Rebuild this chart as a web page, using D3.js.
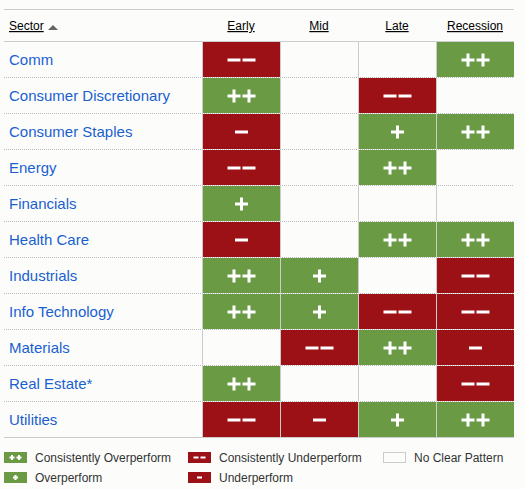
<!DOCTYPE html>
<html><head><meta charset="utf-8">
<script src="https://cdn.jsdelivr.net/npm/d3@7"></script>
<style>html,body{margin:0;padding:0;background:#fcfdfb;}svg{display:block;font-family:"Liberation Sans",Arial,sans-serif;}</style>
</head><body><div id="chart"></div>
<script>
const sectors = ["Comm","Consumer Discretionary","Consumer Staples","Energy","Financials","Health Care","Industrials","Info Technology","Materials","Real Estate*","Utilities"];
const phases = ["Early","Mid","Late","Recession"];
// 2 = consistently overperform, 1 = overperform, 0 = no clear pattern, -1 = underperform, -2 = consistently underperform
const early =     [-2, 2,-1,-2, 1,-1, 2, 2, 0, 2,-2];
const mid =       [ 0, 0, 0, 0, 0, 0, 1, 1,-2, 0,-1];
const late =      [ 0,-2, 1, 2, 0, 2, 0,-2, 2, 0, 1];
const recession = [ 2, 0, 2, 0, 0, 2,-2,-2,-1,-2, 2];
const legendItems = [
  {v:2, label:"Consistently Overperform"},
  {v:-2, label:"Consistently Underperform"},
  {v:0, label:"No Clear Pattern"},
  {v:1, label:"Overperform"},
  {v:-1, label:"Underperform"}
];
const series = [early, mid, late, recession];

const W = 525, H = 489;
const svg = d3.select("#chart").append("svg").attr("width", W).attr("height", H);
const green = "#6b9a45", red = "#9c1116", grid = "#cccccc", bg = "#fcfdfb";
const colorOf = v => v > 0 ? green : (v < 0 ? red : bg);

const x = d3.scaleBand().domain(phases).range([202, 514]);
const y = d3.scaleBand().domain(sectors).range([42, 438]);

// top & header lines
svg.append("line").attr("x1",4).attr("x2",514).attr("y1",9.5).attr("y2",9.5).attr("stroke",grid);
svg.append("line").attr("x1",4).attr("x2",514).attr("y1",41.5).attr("y2",41.5).attr("stroke",grid);
svg.append("line").attr("x1",4).attr("x2",514).attr("y1",437.5).attr("y2",437.5).attr("stroke",grid);

// header
const hdr = svg.append("g").attr("font-size",12).attr("fill","#000");
hdr.append("text").attr("x",9).attr("y",30).text("Sector").attr("text-decoration","underline");
svg.append("path").attr("d","M48,30 L53,25 L58,30 Z").attr("fill","#666");
hdr.selectAll("text.ph").data(phases).enter().append("text").attr("class","ph")
  .attr("x", d => x(d) + x.bandwidth()/2).attr("y",30).attr("text-anchor","middle")
  .attr("text-decoration","underline").text(d => d);

// row dotted separators
svg.selectAll("line.rowsep").data(sectors.slice(1)).enter().append("line").attr("class","rowsep")
  .attr("x1",4).attr("x2",514).attr("y1", d => y(d)-0.5).attr("y2", d => y(d)-0.5)
  .attr("stroke","#bbbbbb").attr("stroke-dasharray","1,1");

// vertical lines
svg.selectAll("line.vsep").data(phases).enter().append("line").attr("class","vsep")
  .attr("x1", d => x(d)+0.5).attr("x2", d => x(d)+0.5).attr("y1",42).attr("y2",437)
  .attr("stroke",grid);

// cells
const cells = [];
sectors.forEach((s,i) => phases.forEach((p,j) => cells.push({s, p, v: series[j][i]})));
const cg = svg.selectAll("g.cell").data(cells.filter(d => d.v !== 0)).enter().append("g").attr("class","cell");
cg.append("rect")
  .attr("x", d => x(d.p)+1).attr("y", d => y(d.s))
  .attr("width", x.bandwidth()-1).attr("height", y.bandwidth()-1)
  .attr("fill", d => colorOf(d.v));

// symbol drawing
function drawSymbol(g, v, cx, cy, arm, th, gap) {
  const n = Math.abs(v);
  const total = n*arm + (n-1)*gap;
  for (let k=0;k<n;k++){
    const mx = cx - total/2 + k*(arm+gap) + arm/2;
    g.append("rect").attr("x", mx-arm/2).attr("y", cy-th/2).attr("width",arm).attr("height",th).attr("fill","#fff");
    if (v>0) g.append("rect").attr("x", mx-th/2).attr("y", cy-arm/2).attr("width",th).attr("height",arm).attr("fill","#fff");
  }
}
cg.each(function(d){
  const g = d3.select(this);
  const cx = x(d.p) + x.bandwidth()/2 + 0.5, cy = y(d.s) + y.bandwidth()/2;
  if (d.v > 0) drawSymbol(g, d.v, cx, cy, 13, 3, 2);
  else drawSymbol(g, d.v, cx, cy, 13, 3, 2);
});

// sector labels
svg.selectAll("text.sec").data(sectors).enter().append("text").attr("class","sec")
  .attr("x",9).attr("y", d => y(d)+y.bandwidth()/2+5).attr("font-size",15).attr("fill","#1a5fd0").text(d => d);

// legend
const lpos = [[4,452],[188,452],[383,452],[4,472],[188,472]];
const lg = svg.selectAll("g.leg").data(legendItems).enter().append("g").attr("class","leg")
  .attr("transform",(d,i)=>`translate(${lpos[i][0]},${lpos[i][1]})`);
lg.append("rect").attr("x",0.5).attr("y",0.5).attr("width",22).attr("height",10)
  .attr("fill", d => colorOf(d.v)).attr("stroke", d => d.v===0 ? "#cccccc" : colorOf(d.v));
lg.each(function(d){
  const g = d3.select(this);
  if (d.v !== 0) drawSymbol(g, d.v, 11.5, 5.5, 5, 2, 2);
});
lg.append("text").attr("x",31).attr("y",10).attr("font-size",12).attr("fill","#333").text(d => d.label);
</script></body></html>
